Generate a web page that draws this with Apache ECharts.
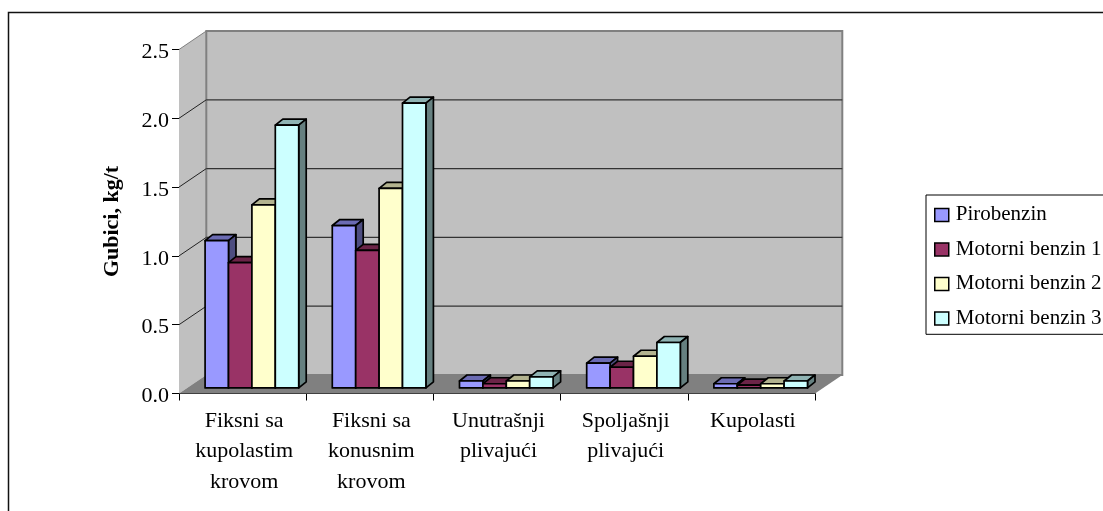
<!DOCTYPE html>
<html><head><meta charset="utf-8">
<style>html,body{margin:0;padding:0;background:#fff;overflow:hidden}#c{width:1103px;height:511px}</style>
<script src="https://cdn.jsdelivr.net/npm/echarts@6/dist/echarts.min.js"></script>
</head><body><div id="c"></div>
<script>
const categories = ['Fiksni sa\nkupolastim\nkrovom','Fiksni sa\nkonusnim\nkrovom','Unutrašnji\nplivajući','Spoljašnji\nplivajući','Kupolasti'];
const pirobenzin = [1.07,1.18,0.05,0.18,0.03];
const motorni1 = [0.91,1.00,0.03,0.15,0.02];
const motorni2 = [1.33,1.45,0.05,0.23,0.03];
const motorni3 = [1.91,2.07,0.08,0.33,0.05];
const seriesNames = ['Pirobenzin','Motorni benzin 1','Motorni benzin 2','Motorni benzin 3'];
const seriesValues = [pirobenzin,motorni1,motorni2,motorni3];
const colors = ['#9999ff','#993366','#ffffcc','#ccffff'];
const topColors = ['#6b6bb3','#6b2447','#b3b38f','#8fb3b3'];
const sideColors = ['#4d4d80','#4d1a33','#808066','#668080'];
const yTicks = [0,0.5,1,1.5,2,2.5];
const DEPTH = [27.3,-18.5], BD = [7.5,-6], BO = [9.3,-5.6], BARFRAC = 0.184;
const FONT = '"Liberation Serif","Times New Roman",serif';
const chart = echarts.init(document.getElementById('c'),null,{renderer:'canvas'});
const add=(p,d)=>[p[0]+d[0],p[1]+d[1]];
function wallItem(params,api){
  const cw = api.size([1,0])[0];
  const a = api.coord([0,0]), b = api.coord([4,0]), t = api.coord([0,2.5]);
  const x0=a[0]-cw/2, x1=b[0]+cw/2, y0=a[1], y1=t[1];
  const fl=[x0,y0], fr=[x1,y0], bl=add(fl,DEPTH), br=add(fr,DEPTH), tlF=[x0,y1], tlB=add(tlF,DEPTH), trB=add([x1,y1],DEPTH);
  const children=[
    {type:'polygon',shape:{points:[fl,bl,tlB,tlF]},style:{fill:'#c0c0c0',stroke:null}},
    {type:'polygon',shape:{points:[bl,br,trB,tlB]},style:{fill:'#c0c0c0',stroke:'#808080',lineWidth:2}},
    {type:'polygon',shape:{points:[fl,fr,br,bl]},style:{fill:'#808080',stroke:null}},
    {type:'line',shape:{x1:tlF[0],y1:tlF[1],x2:tlB[0],y2:tlB[1]},style:{stroke:'#808080',lineWidth:1}}
  ];
  yTicks.slice(1,-1).forEach(v=>{
    const f=api.coord([0,v]); const p=[x0,f[1]], q=add(p,DEPTH), r=add([x1,f[1]],DEPTH);
    children.push({type:'line',shape:{x1:p[0],y1:p[1],x2:q[0],y2:q[1]},style:{stroke:'#222',lineWidth:1}});
    children.push({type:'line',shape:{x1:q[0],y1:q[1],x2:r[0],y2:r[1]},style:{stroke:'#333',lineWidth:1.3}});
  });
  return {type:'group',children};
}
function barRender(si){
  return function(params,api){
    const cw=api.size([1,0])[0];
    const c=api.coord([api.value(0),api.value(1)]);
    const b=api.coord([api.value(0),0]);
    const w=cw*BARFRAC;
    const x=c[0]+BO[0]+(si-2)*w;
    const yt=c[1]+BO[1], yb=b[1]+BO[1];
    const fl=[x,yb],fr=[x+w,yb],tl=[x,yt],tr=[x+w,yt];
    const s={stroke:'#000',lineWidth:1.7,lineJoin:'round'};
    return {type:'group',children:[
      {type:'polygon',shape:{points:[tl,tr,add(tr,BD),add(tl,BD)]},style:{fill:topColors[si],...s}},
      {type:'polygon',shape:{points:[tr,fr,add(fr,BD),add(tr,BD)]},style:{fill:sideColors[si],...s}},
      {type:'polygon',shape:{points:[fl,fr,tr,tl]},style:{fill:colors[si],...s}}
    ]};
  };
}
const barSeries = seriesNames.map((name,si)=>({
  name,type:'custom',z:3+si,clip:false,
  itemStyle:{color:colors[si]},
  encode:{x:0,y:1},
  data:seriesValues[si].map((v,i)=>[i,v]),
  renderItem:barRender(si)
}));
chart.setOption({
  animation:false,
  backgroundColor:'#fff',
  graphic:[{type:'rect',z:0,silent:true,shape:{x:8.5,y:12.5,width:1110,height:520},style:{fill:'#fff',stroke:'#111',lineWidth:1.5}}],
  grid:{left:179,right:288,top:49.5,bottom:117.5,containLabel:false,show:false},
  legend:{
    orient:'vertical',left:926,top:195,itemWidth:14,itemHeight:13,itemGap:13.5,
    padding:[9.4,30,5.4,8],borderColor:'#000',borderWidth:1,backgroundColor:'#fff',
    icon:'rect',itemStyle:{borderColor:'#000',borderWidth:1.5},
    data:seriesNames,
    textStyle:{fontFamily:FONT,fontSize:21,color:'#000',padding:[0,0,0,2]}
  },
  xAxis:{type:'category',data:categories,boundaryGap:true,
    axisLine:{show:true,lineStyle:{color:'#000',width:1}},
    axisTick:{show:true,length:7,lineStyle:{color:'#000'}},
    axisLabel:{interval:0,fontFamily:FONT,fontSize:22,color:'#000',lineHeight:30.5,margin:12,verticalAlign:'top',padding:[0,0,0,3]}
  },
  yAxis:{type:'value',min:0,max:2.5,interval:0.5,
    name:'Gubici, kg/t',nameLocation:'middle',nameGap:56,nameRotate:90,
    nameTextStyle:{fontFamily:FONT,fontSize:22,fontWeight:'bold',color:'#000'},
    axisLine:{show:true,lineStyle:{color:'#000',width:1}},
    axisTick:{show:true,length:7,lineStyle:{color:'#000'}},
    splitLine:{show:false},
    axisLabel:{fontFamily:FONT,fontSize:22,color:'#000',margin:10,verticalAlign:'bottom',lineHeight:22,padding:[0,0,-14,0],formatter:v=>v.toFixed(1)}
  },
  series:[
    {type:'custom',z:1,silent:true,clip:false,data:[[0,0]],encode:{x:0,y:1},renderItem:wallItem,legendHoverLink:false},
    ...barSeries
  ]
});
</script></body></html>
